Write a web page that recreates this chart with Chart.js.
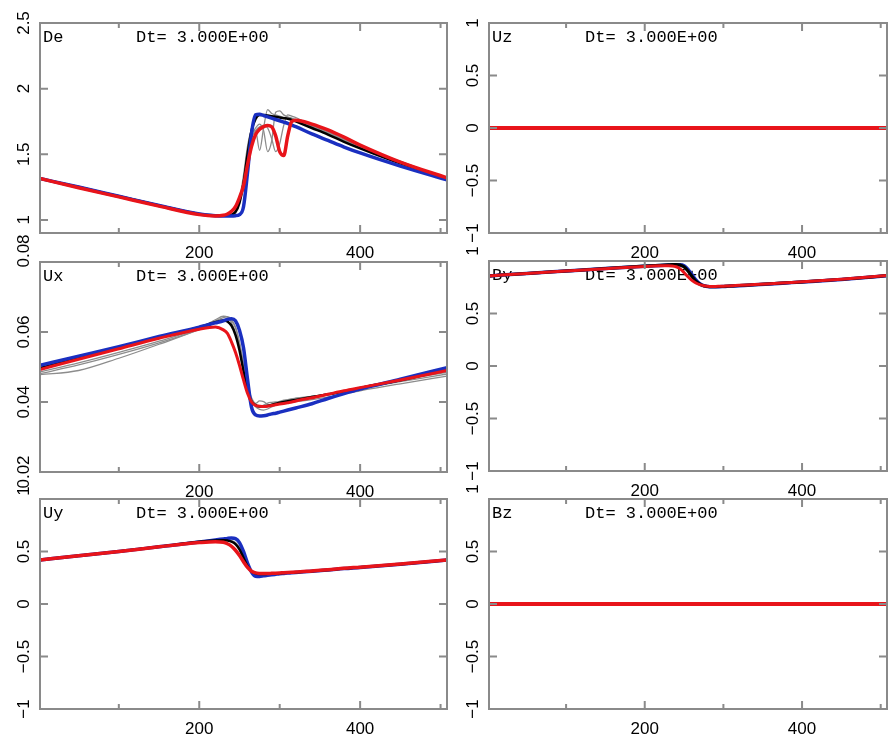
<!DOCTYPE html>
<html>
<head>
<meta charset="utf-8">
<script src="https://cdn.jsdelivr.net/npm/chart.js@4.4.1/dist/chart.umd.min.js"></script>
<style>
  body { margin: 0; background: #fff; }
  #wrap { position: relative; width: 889px; height: 735px; overflow: hidden; background: #fff; }
  #wrap canvas { position: absolute; left: 0; top: 0; }
</style>
</head>
<body>
<div id="wrap">
  <canvas id="pDe" width="889" height="735"></canvas>
  <canvas id="pUz" width="889" height="735"></canvas>
  <canvas id="pUx" width="889" height="735"></canvas>
  <canvas id="pBy" width="889" height="735"></canvas>
  <canvas id="pUy" width="889" height="735"></canvas>
  <canvas id="pBz" width="889" height="735"></canvas>
</div>
<script>
// grid points (x) shared by the profiles
const xs = [2, 50, 100, 150, 200, 220, 230, 235, 240, 245, 250, 255, 260, 265, 270, 275, 280, 285, 290, 295, 300, 305, 310, 315, 320, 340, 360, 380, 400, 450, 508];
const zeroXs = [2, 508];

const xMajorTicks = [200, 400];
const xMinorTicks = [100, 300, 500];
const dtLabel = 'Dt= 3.000E+00';

// De
const deTicks = [1, 1.5, 2, 2.5];
const deBlue  = [1.315, 1.25, 1.18, 1.11, 1.045, 1.032, 1.03, 1.03, 1.03, 1.032, 1.04, 1.10, 1.36, 1.66, 1.80, 1.805, 1.795, 1.785, 1.775, 1.765, 1.755, 1.745, 1.735, 1.722, 1.71, 1.655, 1.605, 1.555, 1.51, 1.41, 1.305];
const deBlack = [1.315, 1.25, 1.18, 1.11, 1.045, 1.035, 1.033, 1.035, 1.04, 1.06, 1.13, 1.28, 1.50, 1.68, 1.77, 1.80, 1.80, 1.795, 1.79, 1.785, 1.78, 1.775, 1.77, 1.762, 1.75, 1.70, 1.65, 1.595, 1.545, 1.43, 1.315];
const deRed   = [1.315, 1.245, 1.175, 1.105, 1.04, 1.03, 1.035, 1.045, 1.065, 1.10, 1.17, 1.26, 1.42, 1.56, 1.65, 1.69, 1.71, 1.72, 1.71, 1.64, 1.52, 1.49, 1.64, 1.75, 1.76, 1.73, 1.685, 1.63, 1.57, 1.44, 1.32];
const deGray1 = [1.31, 1.245, 1.175, 1.105, 1.04, 1.033, 1.033, 1.035, 1.04, 1.07, 1.16, 1.34, 1.56, 1.68, 1.68, 1.53, 1.70, 1.84, 1.81, 1.80, 1.79, 1.78, 1.775, 1.77, 1.76, 1.71, 1.66, 1.605, 1.555, 1.44, 1.31];
const deGray2 = [1.31, 1.245, 1.175, 1.105, 1.04, 1.033, 1.033, 1.035, 1.04, 1.065, 1.15, 1.30, 1.50, 1.64, 1.70, 1.73, 1.68, 1.52, 1.60, 1.82, 1.83, 1.80, 1.785, 1.775, 1.765, 1.715, 1.665, 1.61, 1.56, 1.445, 1.315];
const deGray3 = [1.31, 1.245, 1.175, 1.105, 1.04, 1.033, 1.033, 1.035, 1.04, 1.06, 1.14, 1.27, 1.46, 1.62, 1.68, 1.71, 1.72, 1.70, 1.62, 1.52, 1.58, 1.72, 1.80, 1.79, 1.78, 1.72, 1.67, 1.615, 1.56, 1.445, 1.315];

// Ux
const uxTicks = [0.02, 0.04, 0.06, 0.08];
const uxBlue  = [0.0505, 0.0531, 0.0558, 0.0587, 0.0614, 0.0626, 0.0632, 0.0636, 0.0638, 0.0632, 0.0605, 0.0555, 0.0465, 0.0385, 0.0363, 0.0360, 0.0361, 0.0363, 0.0366, 0.0368, 0.0371, 0.0374, 0.0377, 0.0380, 0.0383, 0.0395, 0.0410, 0.0424, 0.0437, 0.0465, 0.0498];
const uxBlack = [0.0497, 0.0525, 0.0555, 0.0585, 0.0614, 0.0628, 0.0633, 0.0630, 0.0618, 0.0592, 0.0548, 0.0488, 0.0432, 0.0402, 0.0391, 0.0387, 0.0387, 0.0389, 0.0392, 0.0395, 0.0398, 0.0400, 0.0402, 0.0404, 0.0406, 0.0414, 0.0422, 0.0430, 0.0440, 0.0462, 0.0492];
const uxRed   = [0.0493, 0.0522, 0.0552, 0.0582, 0.0608, 0.0614, 0.0606, 0.0596, 0.0572, 0.0542, 0.0505, 0.0463, 0.0425, 0.0400, 0.0390, 0.0388, 0.0387, 0.0388, 0.0390, 0.0392, 0.0394, 0.0396, 0.0398, 0.0400, 0.0403, 0.0412, 0.0422, 0.0432, 0.0441, 0.0463, 0.0490];
const uxGray1 = [0.0478, 0.0490, 0.0525, 0.0565, 0.0608, 0.0632, 0.0641, 0.0644, 0.0636, 0.0612, 0.0565, 0.0500, 0.0443, 0.0406, 0.0386, 0.0379, 0.0377, 0.0380, 0.0386, 0.0391, 0.0394, 0.0396, 0.0398, 0.0400, 0.0401, 0.0407, 0.0414, 0.0423, 0.0432, 0.0452, 0.0474];
const uxGray2 = [0.0486, 0.0512, 0.0542, 0.0574, 0.0611, 0.0635, 0.0645, 0.0643, 0.0627, 0.0598, 0.0553, 0.0493, 0.0437, 0.0403, 0.0396, 0.0403, 0.0401, 0.0393, 0.0391, 0.0395, 0.0400, 0.0404, 0.0406, 0.0408, 0.0410, 0.0416, 0.0423, 0.0432, 0.0441, 0.0463, 0.0485];
const uxGray3 = [0.0481, 0.0506, 0.0536, 0.0569, 0.0607, 0.0626, 0.0634, 0.0636, 0.0632, 0.0614, 0.0572, 0.0512, 0.0452, 0.0412, 0.0394, 0.0386, 0.0391, 0.0397, 0.0399, 0.0400, 0.0402, 0.0405, 0.0407, 0.0409, 0.0411, 0.0416, 0.0422, 0.0430, 0.0438, 0.0458, 0.0480];

// Uy
const unitTicks = [-1, -0.5, 0, 0.5, 1];
const uyBlue  = [0.42, 0.46, 0.50, 0.545, 0.590, 0.610, 0.620, 0.625, 0.628, 0.622, 0.585, 0.500, 0.390, 0.305, 0.265, 0.262, 0.268, 0.273, 0.278, 0.283, 0.288, 0.291, 0.294, 0.297, 0.300, 0.312, 0.323, 0.337, 0.348, 0.378, 0.418];
const uyBlack = [0.42, 0.46, 0.50, 0.545, 0.592, 0.605, 0.608, 0.604, 0.594, 0.570, 0.520, 0.440, 0.360, 0.312, 0.292, 0.286, 0.285, 0.287, 0.289, 0.291, 0.293, 0.295, 0.298, 0.300, 0.302, 0.313, 0.324, 0.338, 0.349, 0.379, 0.419];
const uyRed   = [0.42, 0.46, 0.50, 0.545, 0.585, 0.594, 0.588, 0.574, 0.550, 0.512, 0.462, 0.402, 0.348, 0.312, 0.296, 0.291, 0.290, 0.290, 0.292, 0.294, 0.296, 0.298, 0.300, 0.302, 0.304, 0.315, 0.326, 0.340, 0.351, 0.381, 0.420];
const uyGray  = [0.42, 0.46, 0.50, 0.545, 0.592, 0.610, 0.615, 0.614, 0.605, 0.585, 0.540, 0.460, 0.375, 0.318, 0.295, 0.290, 0.296, 0.292, 0.290, 0.292, 0.294, 0.296, 0.298, 0.300, 0.302, 0.313, 0.324, 0.338, 0.349, 0.379, 0.419];

// By
const byBlue  = [0.858, 0.882, 0.905, 0.928, 0.950, 0.958, 0.962, 0.964, 0.965, 0.965, 0.955, 0.920, 0.870, 0.820, 0.785, 0.765, 0.757, 0.754, 0.754, 0.755, 0.757, 0.759, 0.761, 0.763, 0.765, 0.773, 0.782, 0.791, 0.800, 0.824, 0.860];
const byBlack = [0.858, 0.882, 0.905, 0.928, 0.952, 0.960, 0.964, 0.966, 0.966, 0.962, 0.945, 0.905, 0.855, 0.810, 0.780, 0.763, 0.757, 0.755, 0.755, 0.756, 0.758, 0.760, 0.762, 0.764, 0.766, 0.774, 0.783, 0.792, 0.801, 0.825, 0.861];
const byRed   = [0.858, 0.882, 0.905, 0.927, 0.948, 0.954, 0.955, 0.953, 0.945, 0.925, 0.890, 0.850, 0.815, 0.790, 0.775, 0.765, 0.760, 0.758, 0.758, 0.759, 0.760, 0.762, 0.764, 0.766, 0.768, 0.776, 0.784, 0.793, 0.802, 0.826, 0.861];
const byGray  = [0.858, 0.882, 0.905, 0.928, 0.951, 0.959, 0.963, 0.965, 0.963, 0.955, 0.935, 0.895, 0.845, 0.800, 0.770, 0.756, 0.752, 0.752, 0.753, 0.755, 0.757, 0.759, 0.761, 0.763, 0.765, 0.773, 0.782, 0.791, 0.800, 0.824, 0.860];

// Uz, Bz stay at zero
const uzRed = [0, 0];
const bzRed = [0, 0];

const RED = '#e8141a', BLUE = '#1a2fc0', BLACK = '#000000', GRAY = '#8c8c8c';
const FRAME = '#8a8a8a';

function line(xv, yv, color, width, order) {
  return { xv, yv, color, width, order };
}

const panels = [
  { id: 'pDe', name: 'De', box: [40, 23, 447, 233], yMin: 0.9, yMax: 2.5, ticks: deTicks, topShift: 0,
    lines: [line(xs, deGray1, GRAY, 1.3, 5), line(xs, deGray2, GRAY, 1.3, 5), line(xs, deGray3, GRAY, 1.3, 5),
            line(xs, deBlack, BLACK, 2.5, 3), line(xs, deBlue, BLUE, 3.5, 2), line(xs, deRed, RED, 3.5, 1)] },
  { id: 'pUz', name: 'Uz', box: [489, 23, 887, 233], yMin: -1, yMax: 1, ticks: unitTicks, topShift: 0,
    lines: [line(zeroXs, uzRed, RED, 4, 1)] },
  { id: 'pUx', name: 'Ux', box: [40, 262, 447, 472], yMin: 0.02, yMax: 0.08, ticks: uxTicks, topShift: -11,
    lines: [line(xs, uxGray1, GRAY, 1.3, 5), line(xs, uxGray2, GRAY, 1.3, 5), line(xs, uxGray3, GRAY, 1.3, 5),
            line(xs, uxBlack, BLACK, 2.5, 3), line(xs, uxBlue, BLUE, 3.5, 2), line(xs, uxRed, RED, 3, 1)] },
  { id: 'pBy', name: 'By', box: [489, 261, 887, 471], yMin: -1, yMax: 1, ticks: unitTicks, topShift: -10,
    lines: [line(xs, byGray, GRAY, 2, 5), line(xs, byBlue, BLUE, 3.5, 3), line(xs, byBlack, BLACK, 3, 2), line(xs, byRed, RED, 3, 1)] },
  { id: 'pUy', name: 'Uy', box: [40, 499, 447, 709], yMin: -1, yMax: 1, ticks: unitTicks, topShift: -8,
    lines: [line(xs, uyGray, GRAY, 1.5, 5), line(xs, uyBlue, BLUE, 3.5, 3), line(xs, uyBlack, BLACK, 2.5, 2), line(xs, uyRed, RED, 3.5, 1)] },
  { id: 'pBz', name: 'Bz', box: [489, 499, 887, 709], yMin: -1, yMax: 1, ticks: unitTicks, topShift: -10,
    lines: [line(zeroXs, bzRed, RED, 4, 1)] }
];

function fmt(v) {
  return v < 0 ? '\u2212' + String(-v) : String(v);
}

function framePlugin(p) {
  return {
    id: 'frame' + p.name,
    beforeDatasetsDraw(chart) {
      const { ctx, chartArea } = chart;
      ctx.save();
      ctx.fillStyle = '#000';
      ctx.font = '17px "Liberation Mono", "DejaVu Sans Mono", monospace';
      ctx.textBaseline = 'alphabetic';
      ctx.textAlign = 'left';
      ctx.fillText(p.name, chartArea.left + 3, chartArea.top + 19);
      ctx.fillText(dtLabel, chartArea.left + 96, chartArea.top + 19);
      ctx.restore();
    },
    afterDraw(chart) {
      const { ctx, chartArea } = chart;
      const { left, right, top, bottom } = chartArea;
      const sx = chart.scales.x, sy = chart.scales.y;
      ctx.save();
      ctx.strokeStyle = FRAME;
      ctx.lineWidth = 2;
      ctx.strokeRect(left, top, right - left, bottom - top);
      ctx.beginPath();
      xMajorTicks.forEach(v => {
        const px = sx.getPixelForValue(v);
        ctx.moveTo(px, bottom); ctx.lineTo(px, bottom - 8);
        ctx.moveTo(px, top); ctx.lineTo(px, top + 8);
      });
      xMinorTicks.forEach(v => {
        const px = sx.getPixelForValue(v);
        ctx.moveTo(px, bottom); ctx.lineTo(px, bottom - 5);
        ctx.moveTo(px, top); ctx.lineTo(px, top + 5);
      });
      p.ticks.forEach(v => {
        if (v <= p.yMin || v >= p.yMax) return;
        const py = sy.getPixelForValue(v);
        ctx.moveTo(left, py); ctx.lineTo(left + 8, py);
        ctx.moveTo(right, py); ctx.lineTo(right - 8, py);
      });
      ctx.stroke();

      ctx.fillStyle = '#000';
      ctx.font = '17px "Liberation Sans", Arial, sans-serif';
      ctx.textAlign = 'center';
      ctx.textBaseline = 'alphabetic';
      xMajorTicks.forEach(v => {
        ctx.fillText(String(v), sx.getPixelForValue(v), bottom + 25);
      });
      p.ticks.forEach(v => {
        let py = sy.getPixelForValue(v);
        if (v === p.yMax) py += p.topShift;
        ctx.save();
        ctx.translate(left - 11, py);
        ctx.rotate(-Math.PI / 2);
        ctx.fillText(fmt(v), 0, 0);
        ctx.restore();
      });
      ctx.restore();
    }
  };
}

panels.forEach(p => {
  const [x0, y0, x1, y1] = p.box;
  const datasets = p.lines.map(l => ({
    data: l.xv.map((x, i) => ({ x: x, y: l.yv[i] })),
    borderColor: l.color,
    borderWidth: l.width,
    order: l.order,
    pointRadius: 0,
    fill: false,
    cubicInterpolationMode: 'monotone'
  }));
  new Chart(document.getElementById(p.id), {
    type: 'line',
    data: { datasets },
    options: {
      responsive: false,
      animation: false,
      devicePixelRatio: 1,
      layout: { padding: { left: x0, top: y0, right: 889 - x1, bottom: 735 - y1 } },
      scales: {
        x: { type: 'linear', min: 2, max: 508, display: false },
        y: { type: 'linear', min: p.yMin, max: p.yMax, display: false }
      },
      plugins: { legend: { display: false }, tooltip: { enabled: false } }
    },
    plugins: [framePlugin(p)]
  });
});
</script>
</body>
</html>
